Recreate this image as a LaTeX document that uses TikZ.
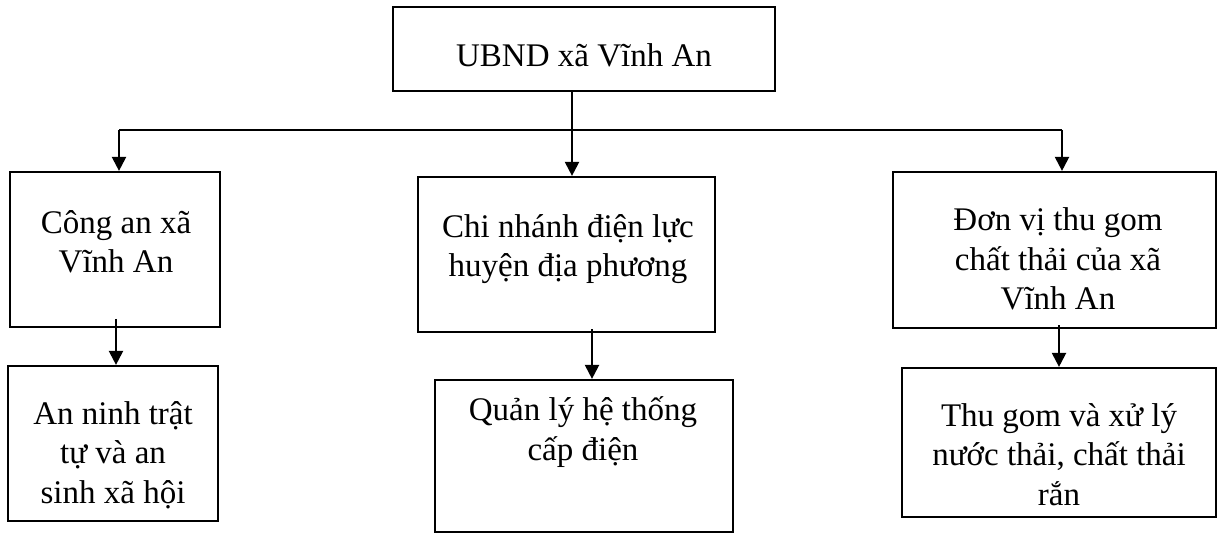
\documentclass[tikz,border=0pt]{standalone}
\usepackage{fontspec}
\setmainfont{Liberation Serif}
\usetikzlibrary{arrows.meta,calc}

\tikzset{
  box/.style={draw, line width=2.2pt, rectangle, inner sep=0pt},
  label text/.style={align=center, inner sep=0pt, anchor=base,
    font=\fontsize{33}{39.5}\selectfont},
  link/.style={line width=2.2pt},
  arr/.style={line width=2.2pt, -{Triangle[length=14pt,width=14pt]}}
}

\begin{document}
\begin{tikzpicture}[x=1pt,y=1pt]
\useasboundingbox (0,0) rectangle (1217,-534);

% boxes
\node[box, minimum width=382pt, minimum height=84pt]  (top) at (584,-49)    {};
\node[box, minimum width=210pt, minimum height=155pt] (cL)  at (115,-249.5) {};
\node[box, minimum width=297pt, minimum height=155pt] (cM)  at (566.5,-254.5) {};
\node[box, minimum width=323pt, minimum height=156pt] (cR)  at (1054.5,-250) {};
\node[box, minimum width=210pt, minimum height=155pt] (bL)  at (113,-443.5) {};
\node[box, minimum width=298pt, minimum height=152pt] (bM)  at (584,-456)   {};
\node[box, minimum width=314pt, minimum height=149pt] (bR)  at (1059,-442.5) {};

% texts (anchored on the baseline of the last line)
\node[label text] (tTop) at (584,-67)  {UBND xã Vĩnh An};
\node[label text] (tcL)  at (116,-273) {Công an xã\\Vĩnh An};
\node[label text] (tcM)  at (568,-277) {Chi nhánh điện lực\\huyện địa phương};
\node[label text] (tcR)  at (1058,-310) {Đơn vị thu gom\\chất thải của xã\\Vĩnh An};
\node[label text] (tbL)  at (113,-503) {An ninh trật\\tự và an\\sinh xã hội};
\node[label text] (tbM)  at (583,-460) {Quản lý hệ thống\\cấp điện};
\node[label text] (tbR)  at (1059,-505) {Thu gom và xử lý\\nước thải, chất thải\\rắn};

% branch points
\coordinate (jL) at (119,-130);
\coordinate (jR) at (1062,-130);
\coordinate (sTop) at (572,-91);
\coordinate (sL) at (116,-319);
\coordinate (sM) at (592,-329);
\coordinate (sR) at (1059,-325);

% connectors
\draw[link] (jL) -- (jR);
\draw[arr] (sTop) -- (sTop |- cM.north);
\draw[arr] (jL) -- (jL |- cL.north);
\draw[arr] (jR) -- (jR |- cR.north);
\draw[arr] (sL) -- (sL |- bL.north);
\draw[arr] (sM) -- (sM |- bM.north);
\draw[arr] (sR) -- (sR |- bR.north);
\end{tikzpicture}
\end{document}
